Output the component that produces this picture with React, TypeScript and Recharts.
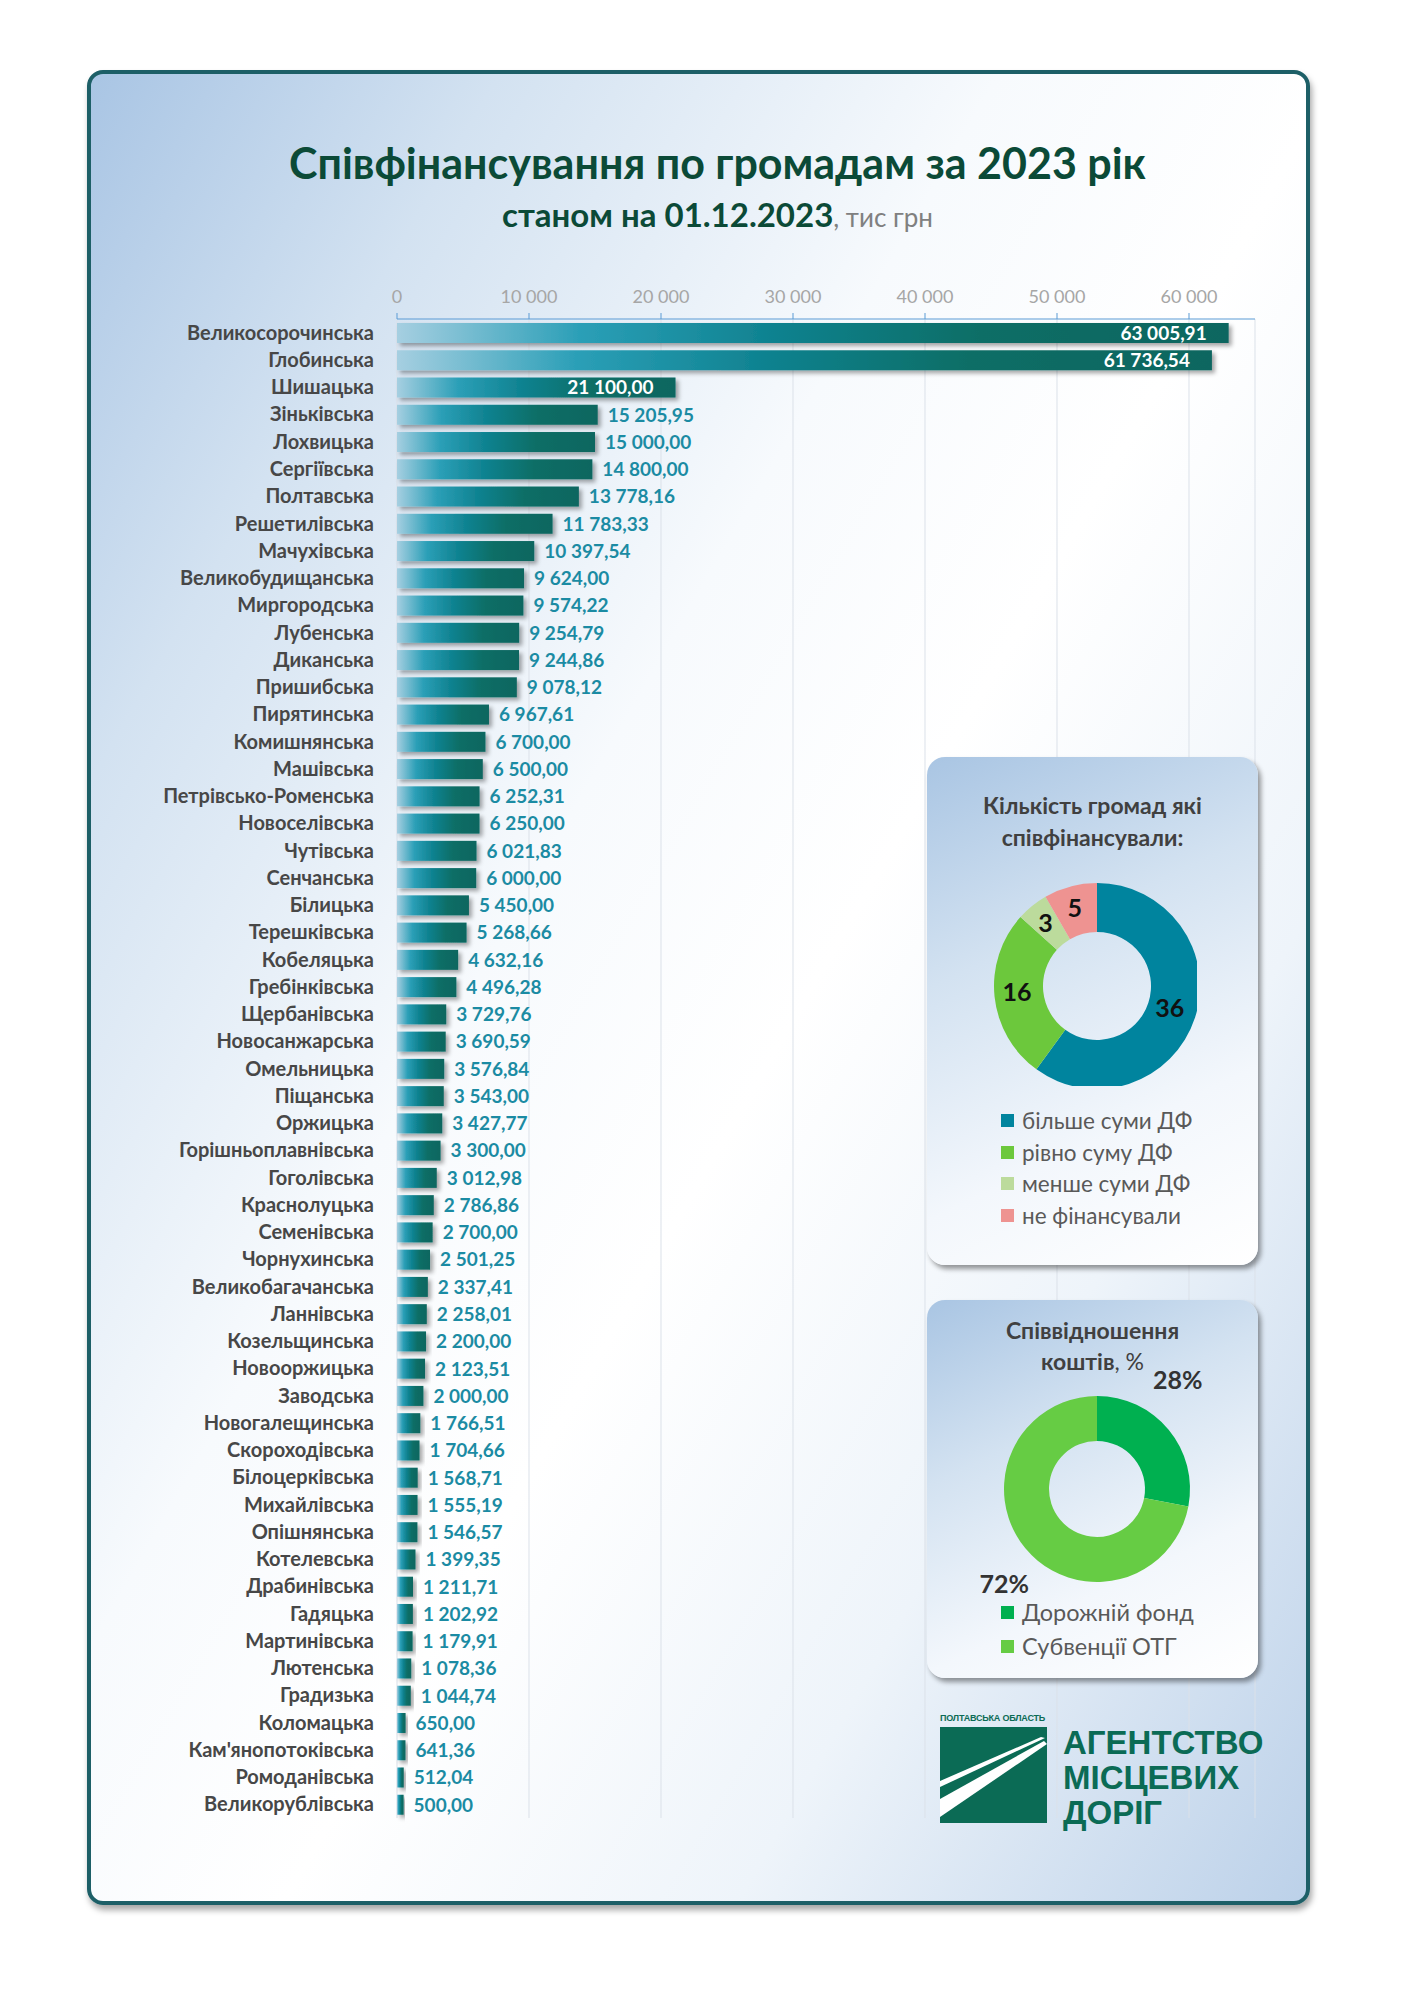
import React from "react";
import { BarChart, Bar, XAxis, YAxis, CartesianGrid, LabelList, PieChart, Pie, Cell } from "recharts";

const communities = [
  "Великосорочинська", "Глобинська", "Шишацька", "Зіньківська", "Лохвицька",
  "Сергіївська", "Полтавська", "Решетилівська", "Мачухівська", "Великобудищанська",
  "Миргородська", "Лубенська", "Диканська", "Пришибська", "Пирятинська",
  "Комишнянська", "Машівська", "Петрівсько-Роменська", "Новоселівська", "Чутівська",
  "Сенчанська", "Білицька", "Терешківська", "Кобеляцька", "Гребінківська",
  "Щербанівська", "Новосанжарська", "Омельницька", "Піщанська", "Оржицька",
  "Горішньоплавнівська", "Гоголівська", "Краснолуцька", "Семенівська", "Чорнухинська",
  "Великобагачанська", "Ланнівська", "Козельщинська", "Новооржицька", "Заводська",
  "Новогалещинська", "Скороходівська", "Білоцерківська", "Михайлівська", "Опішнянська",
  "Котелевська", "Драбинівська", "Гадяцька", "Мартинівська", "Лютенська",
  "Градизька", "Коломацька", "Кам'янопотоківська", "Ромоданівська", "Великорублівська",
];

const amounts = [
  63005.91, 61736.54, 21100.0, 15205.95, 15000.0,
  14800.0, 13778.16, 11783.33, 10397.54, 9624.0,
  9574.22, 9254.79, 9244.86, 9078.12, 6967.61,
  6700.0, 6500.0, 6252.31, 6250.0, 6021.83,
  6000.0, 5450.0, 5268.66, 4632.16, 4496.28,
  3729.76, 3690.59, 3576.84, 3543.0, 3427.77,
  3300.0, 3012.98, 2786.86, 2700.0, 2501.25,
  2337.41, 2258.01, 2200.0, 2123.51, 2000.0,
  1766.51, 1704.66, 1568.71, 1555.19, 1546.57,
  1399.35, 1211.71, 1202.92, 1179.91, 1078.36,
  1044.74, 650.0, 641.36, 512.04, 500.0,
];

const xTicks = [0, 10000, 20000, 30000, 40000, 50000, 60000];

const countLabels = ["більше суми ДФ", "рівно суму ДФ", "менше суми ДФ", "не фінансували"];
const countValues = [36, 16, 3, 5];
const countColors = ["#00849e", "#6cc83c", "#bcdb9c", "#ee9391"];

const shareLabels = ["Дорожній фонд", "Субвенції ОТГ"];
const shareValues = [28, 72];
const shareColors = ["#00b050", "#66cc44"];

const FONT = "Lato, 'Open Sans', sans-serif";
const GREEN = "#0b4a37";
const LOGO = "#0b6b55";

const barData = communities.map((name, i) => ({ name, value: amounts[i] }));
const countData = countLabels.map((name, i) => ({ name, value: countValues[i] }));
const shareData = shareLabels.map((name, i) => ({ name, value: shareValues[i] }));

function fmt(v: number, digits = 2) {
  const [int, dec] = v.toFixed(digits).split(".");
  const grouped = int.replace(/\B(?=(\d{3})+(?!\d))/g, " ");
  return dec ? `${grouped},${dec}` : grouped;
}

function ShadowBar(props: any) {
  const { x, y, width, height } = props;
  if (!width || width <= 0) return null;
  return <rect x={x} y={y} width={width} height={height} fill="url(#barFill)" filter="url(#barShadow)" />;
}

function ValueLabel(props: any) {
  const { x, y, width, height, value } = props;
  const inside = value >= 20000;
  return (
    <text
      x={inside ? x + width - 22 : x + width + 10}
      y={y + height / 2}
      dy="0.36em"
      textAnchor={inside ? "end" : "start"}
      fill={inside ? "#ffffff" : "#1b8ba3"}
      fontFamily={FONT}
      fontWeight={700}
      fontSize={19}
    >
      {fmt(value)}
    </text>
  );
}

const RAD = Math.PI / 180;

function countLabel(props: any) {
  const { cx, cy, midAngle, innerRadius, outerRadius, value } = props;
  const r = (innerRadius + outerRadius) / 2;
  return (
    <text
      x={cx + r * Math.cos(-midAngle * RAD) - 2}
      y={cy + r * Math.sin(-midAngle * RAD) - 3}
      textAnchor="middle"
      dominantBaseline="central"
      fill="#111"
      fontFamily={FONT}
      fontWeight={700}
      fontSize={25}
    >
      {value}
    </text>
  );
}

function shareLabel(props: any) {
  const { cx, cy, midAngle, outerRadius, value } = props;
  const a = midAngle + 10;
  const r = outerRadius + 41;
  return (
    <text
      x={cx + r * Math.cos(-a * RAD) - 6}
      y={cy + r * Math.sin(-a * RAD) - 8}
      textAnchor="middle"
      dominantBaseline="central"
      fill="#333"
      fontFamily={FONT}
      fontWeight={700}
      fontSize={25}
    >
      {value}%
    </text>
  );
}

const panelStyle: React.CSSProperties = {
  position: "absolute",
  left: 927,
  width: 331,
  borderRadius: 18,
  background: "linear-gradient(155deg, #a9c5e3 0%, #d3e2f1 35%, #f3f7fc 70%, #ffffff 100%)",
  boxShadow: "3px 4px 5px rgba(0,0,0,0.4)",
  fontFamily: FONT,
};

function LegendList({ labels, colors, top, step, size }: { labels: string[]; colors: string[]; top: number; step: number; size: number }) {
  return (
    <div style={{ position: "absolute", left: 74, top }}>
      {labels.map((l, i) => (
        <div key={l} style={{ display: "flex", alignItems: "center", height: step, color: "#595959", fontSize: size, whiteSpace: "nowrap" }}>
          <span style={{ width: 13, height: 13, background: colors[i], marginRight: 8, display: "inline-block" }} />
          {l}
        </div>
      ))}
    </div>
  );
}

export default function App() {
  return (
    <div style={{ position: "absolute", left: 0, top: 0, width: 1414, height: 2000, background: "#fff", overflow: "hidden", fontFamily: FONT }}>
      <div
        style={{
          position: "absolute",
          left: 87,
          top: 70,
          width: 1223,
          height: 1835,
          boxSizing: "border-box",
          border: "4px solid #1d5f67",
          borderRadius: 16,
          boxShadow: "2px 5px 6px rgba(0,0,0,0.35)",
          background: "linear-gradient(120deg, #a9c5e4 0%, #d3e2f1 18%, #f7fafd 40%, #ffffff 55%, #eef4fa 75%, #bcd1e9 100%)",
        }}
      />
      <div style={{ position: "absolute", left: 106, width: 1223, top: 137, textAlign: "center", color: GREEN, fontWeight: 700, fontSize: 43, lineHeight: "52px", whiteSpace: "nowrap" }}>
        Співфінансування по громадам за 2023 рік
      </div>
      <div style={{ position: "absolute", left: 106, width: 1223, top: 195, textAlign: "center", lineHeight: "38px", whiteSpace: "nowrap" }}>
        <span style={{ color: GREEN, fontWeight: 700, fontSize: 33 }}>станом на 01.12.2023</span>
        <span style={{ color: "#808080", fontSize: 26 }}>, тис грн</span>
      </div>

      <div style={{ position: "absolute", left: 0, top: 0 }}>
        <BarChart
          layout="vertical"
          width={1300}
          height={1830}
          data={barData}
          margin={{ top: 279, right: 45, bottom: 12, left: 137 }}
        >
          <defs>
            <linearGradient id="barFill" x1="0" y1="0" x2="1" y2="0">
              <stop offset="0%" stopColor="#a6cfe1" />
              <stop offset="22%" stopColor="#2b9fb7" />
              <stop offset="45%" stopColor="#0f8290" />
              <stop offset="70%" stopColor="#0b6e66" />
              <stop offset="100%" stopColor="#0a6660" />
            </linearGradient>
            <filter id="barShadow" x="-10%" y="-30%" width="130%" height="180%">
              <feDropShadow dx="3" dy="3" stdDeviation="2" floodColor="#000" floodOpacity="0.35" />
            </filter>
          </defs>
          <CartesianGrid horizontal={false} stroke="#dbe1e9" />
          <XAxis
            type="number"
            orientation="top"
            domain={[0, 65000]}
            ticks={xTicks}
            tickFormatter={(v: number) => fmt(v, 0)}
            axisLine={{ stroke: "#5b9bd5" }}
            tickLine={{ stroke: "#5b9bd5" }}
            tickSize={6}
            tickMargin={10}
            height={40}
            tick={{ fill: "#a6a6a6", fontSize: 18, fontFamily: FONT }}
          />
          <YAxis
            type="category"
            dataKey="name"
            width={260}
            interval={0}
            axisLine={false}
            tickLine={false}
            tickSize={0}
            tickMargin={23}
            tick={{ fill: "#474747", fontSize: 20, fontWeight: 700, fontFamily: FONT }}
          />
          <Bar dataKey="value" barSize={20} shape={ShadowBar} isAnimationActive={false}>
            <LabelList dataKey="value" content={ValueLabel} />
          </Bar>
        </BarChart>
      </div>

      <div style={{ ...panelStyle, top: 757, height: 508 }}>
        <div style={{ position: "absolute", left: 0, width: 331, top: 32, textAlign: "center", color: "#404040", fontWeight: 700, fontSize: 23, lineHeight: "32px" }}>
          Кількість громад які
          <br />
          співфінансували:
        </div>
        <div style={{ position: "absolute", left: 60, top: 119 }}>
          <PieChart width={210} height={210}>
            <Pie
              data={countData}
              dataKey="value"
              cx={105}
              cy={105}
              innerRadius={54}
              outerRadius={103}
              startAngle={90}
              endAngle={-270}
              stroke="none"
              label={countLabel}
              labelLine={false}
              isAnimationActive={false}
            >
              {countData.map((d, i) => (
                <Cell key={d.name} fill={countColors[i]} />
              ))}
            </Pie>
          </PieChart>
        </div>
        <LegendList labels={countLabels} colors={countColors} top={348} step={31.5} size={22.5} />
      </div>

      <div style={{ ...panelStyle, top: 1300, height: 378 }}>
        <div style={{ position: "absolute", left: 0, width: 331, top: 15, textAlign: "center", color: "#404040", fontWeight: 700, fontSize: 23, lineHeight: "31px" }}>
          Співвідношення
          <br />
          коштів<span style={{ fontWeight: 400 }}>, %</span>
        </div>
        <div style={{ position: "absolute", left: 15, top: 34 }}>
          <PieChart width={300} height={300}>
            <Pie
              data={shareData}
              dataKey="value"
              cx={150}
              cy={150}
              innerRadius={48}
              outerRadius={93}
              startAngle={90}
              endAngle={-270}
              stroke="none"
              label={shareLabel}
              labelLine={false}
              isAnimationActive={false}
            >
              {shareData.map((d, i) => (
                <Cell key={d.name} fill={shareColors[i]} />
              ))}
            </Pie>
          </PieChart>
        </div>
        <LegendList labels={shareLabels} colors={shareColors} top={295} step={34} size={23.5} />
      </div>

      <div style={{ position: "absolute", left: 940, top: 1713, color: LOGO, fontFamily: "'Liberation Sans', Arial, sans-serif", fontWeight: 700, fontSize: 9, letterSpacing: -0.2 }}>
        ПОЛТАВСЬКА ОБЛАСТЬ
      </div>
      <svg style={{ position: "absolute", left: 940, top: 1727 }} width={107} height={96}>
        <rect width={107} height={96} fill={LOGO} />
        <polygon points="0,54 0,60 105,11 101,10" fill="#fff" />
        <polygon points="0,72 0,90 107,17 104,14" fill="#fff" />
      </svg>
      <div style={{ position: "absolute", left: 1063, top: 1725, color: LOGO, fontFamily: "'Liberation Sans', Arial, sans-serif", fontWeight: 700, fontSize: 33, lineHeight: "35px" }}>
        АГЕНТСТВО
        <br />
        МІСЦЕВИХ
        <br />
        ДОРІГ
      </div>
    </div>
  );
}
